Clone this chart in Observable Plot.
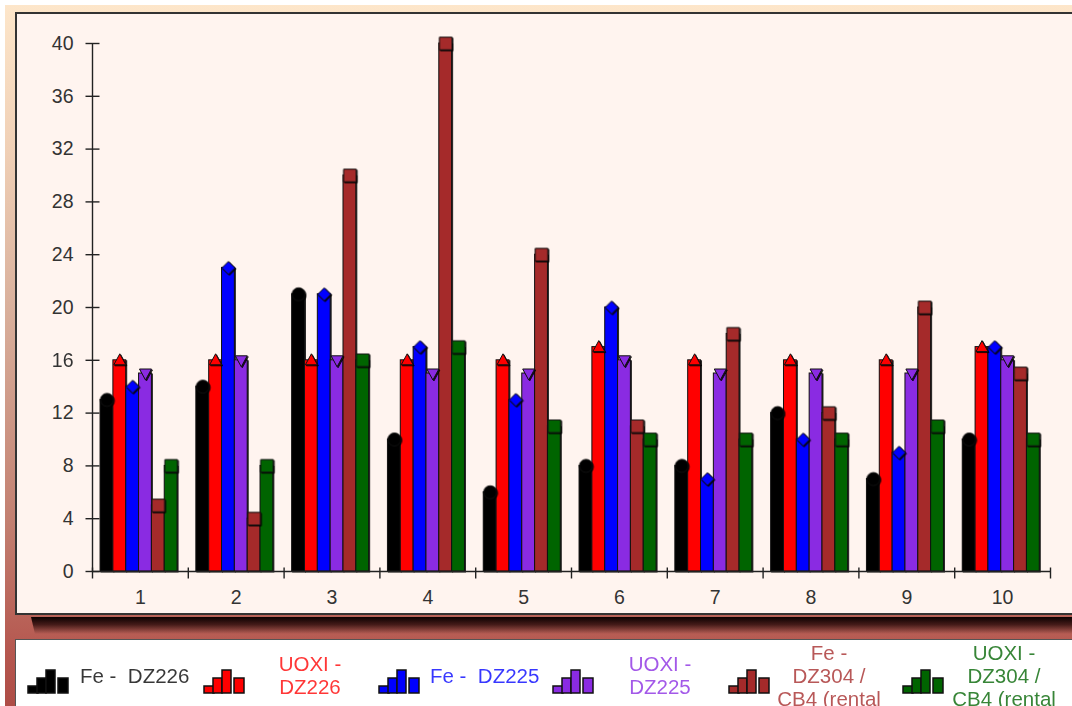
<!DOCTYPE html>
<html><head><meta charset="utf-8">
<script src="https://cdn.jsdelivr.net/npm/d3@7"></script>
<script src="https://cdn.jsdelivr.net/npm/@observablehq/plot@0.6"></script>
<style>
html,body{margin:0;padding:0;width:1072px;height:706px;overflow:hidden;background:#fff;font-family:"Liberation Sans",Arial,sans-serif;}
#frame{position:absolute;left:5px;top:5px;width:1100px;height:720px;background:linear-gradient(to bottom,#fde6ca 0%,#f0d0b6 20%,#d9b09c 42%,#c27f70 72%,#b5574f 90%,#ab4943 100%);}
#panel{position:absolute;left:15px;top:12px;width:1100px;height:599px;border:2px solid #333;background:#fff4ef;}
#shadow{position:absolute;left:31px;top:617px;width:1100px;height:17px;background:linear-gradient(to bottom,rgba(10,0,0,1),rgba(30,4,4,0.75) 45%,rgba(120,40,35,0));clip-path:polygon(0 0,100% 0,100% 100%,4px 100%);}
#legend{position:absolute;left:15px;top:639px;width:1100px;height:100px;border:1px solid #555;background:#fff;}
.li{position:absolute;}
.lt{position:absolute;font-size:20.5px;line-height:23px;text-align:center;white-space:nowrap;opacity:0.78;}
</style></head>
<body>
<div id="frame"></div>
<div id="panel"></div>
<div id="shadow"></div>
<div id="legend"></div>
<script>
const categories = [1, 2, 3, 4, 5, 6, 7, 8, 9, 10];
const seriesNames = ["Fe -  DZ226", "UOXI - DZ226", "Fe -  DZ225", "UOXI - DZ225", "Fe - DZ304 / CB4 (rental", "UOXI - DZ304 / CB4 (rental"];
const seriesColors = ["#000000", "#ff0000", "#0000ff", "#8a2be2", "#a52a2a", "#006400"];
const feDZ226   = [13, 14, 21, 10, 6, 8, 8, 12, 7, 10];
const uoxiDZ226 = [16, 16, 16, 16, 16, 17, 16, 16, 16, 17];
const feDZ225   = [14, 23, 21, 17, 13, 20, 7, 10, 9, 17];
const uoxiDZ225 = [15, 16, 16, 15, 15, 16, 15, 15, 15, 16];
const feDZ304   = [5, 4, 30, 40, 24, 11, 18, 12, 20, 15];
const uoxiDZ304 = [8, 8, 16, 17, 11, 10, 10, 10, 11, 10];
const yTicks = [0, 4, 8, 12, 16, 20, 24, 28, 32, 36, 40];
const legendLines = [["Fe -  DZ226"], ["UOXI -", "DZ226"], ["Fe -  DZ225"], ["UOXI -", "DZ225"], ["Fe -", "DZ304 /", "CB4 (rental"], ["UOXI -", "DZ304 /", "CB4 (rental"]];

const valuesBySeries = [feDZ226, uoxiDZ226, feDZ225, uoxiDZ225, feDZ304, uoxiDZ304];
const rows = [];
seriesNames.forEach((s, si) => categories.forEach((c, ci) => rows.push({cat: c, si, series: s, value: valuesBySeries[si][ci]})));
const boundaries = [0.5, ...categories.map(c => c + 0.5)];

const groupPad = 0.084, barW = 0.134;
const bx1 = d => d.cat - 0.5 + groupPad + d.si * barW;
const bx2 = d => bx1(d) + barW;
const bxm = d => bx1(d) + barW / 2;

const sym = {
  circle: {draw(c){ c.moveTo(6.5,0); c.arc(0,0,6.5,0,2*Math.PI); }},
  up: {draw(c){ c.moveTo(0,-6.5); c.lineTo(6,4.5); c.lineTo(-6,4.5); c.closePath(); }},
  diamond: {draw(c){ c.moveTo(0,-6.5); c.lineTo(6.5,0); c.lineTo(0,6.5); c.lineTo(-6.5,0); c.closePath(); }},
  down: {draw(c){ c.moveTo(0,6.5); c.lineTo(6,-4.5); c.lineTo(-6,-4.5); c.closePath(); }},
  square: {draw(c){ c.rect(-6.3,-6.3,12.6,12.6); }},
  hLine: {draw(c){ c.moveTo(-7,0); c.lineTo(7,0); }},
  vLine: {draw(c){ c.moveTo(0,-4); c.lineTo(0,7); }}
};
const markerSyms = [sym.circle, sym.up, sym.diamond, sym.down, sym.square, sym.square];

const marks = [
  Plot.rectY(rows, {x1: bx1, x2: bx2, y1: 0, y2: "value", fill: "series", stroke: "#111", strokeWidth: 1})
];
seriesNames.forEach((s, si) => {
  marks.push(Plot.dot(rows.filter(d => d.si === si), {x: bxm, y: "value", symbol: markerSyms[si], fill: "series", stroke: "#111", strokeWidth: 1}));
});
marks.push(
  Plot.ruleY([0], {x1: 0.5, x2: 10.5, stroke: "#222", strokeWidth: 1.4}),
  Plot.ruleX([0.5], {y1: 0, y2: 40, stroke: "#222", strokeWidth: 1.4}),
  Plot.dot(yTicks, {x: 0.5, y: d => d, symbol: sym.hLine, fill: "none", stroke: "#222", strokeWidth: 1.4}),
  Plot.dot(boundaries, {x: d => d, y: 0, symbol: sym.vLine, fill: "none", stroke: "#222", strokeWidth: 1.4}),
  Plot.axisY({ticks: yTicks, tickSize: 0, tickPadding: 19, label: null}),
  Plot.axisX({ticks: categories, tickSize: 0, tickPadding: 19, label: null, tickFormat: d => String(d)})
);

const chart = Plot.plot({
  width: 1060, height: 599,
  marginLeft: 75, marginRight: 27, marginTop: 29, marginBottom: 42,
  x: {domain: [0.5, 10.5]},
  y: {domain: [0, 40]},
  color: {domain: seriesNames, range: seriesColors},
  style: {background: "transparent", fontFamily: "'Liberation Sans', Arial, sans-serif", fontSize: "19.5px", color: "#333", overflow: "visible"},
  marks
});
chart.querySelectorAll('g[aria-label="rect"], g[aria-label="dot"]').forEach((g, i) => {
  if (i <= 6) g.style.filter = "drop-shadow(1.5px 1px 0.6px rgba(0,0,0,0.85))";
});
chart.style.position = "absolute";
chart.style.left = "0"; chart.style.top = "0";
document.getElementById("panel").appendChild(chart);

// Legend (HTML)
const legend = document.getElementById("legend");
const iconLefts = [27, 203, 378, 552, 728, 902];
const textPos = [{left: 80, align: "left"}, {center: 310}, {left: 430, align: "left"}, {center: 660}, {center: 829}, {center: 1004}];
seriesNames.forEach((s, si) => {
  const ns = "http://www.w3.org/2000/svg";
  const svg = document.createElementNS(ns, "svg");
  svg.setAttribute("width", 42); svg.setAttribute("height", 25);
  svg.setAttribute("class", "li");
  svg.style.left = (iconLefts[si] - 16) + "px";
  svg.style.top = (669 - 640) + "px";
  [[1, 10, 7], [10, 9, 15], [19, 9, 23], [31, 10, 15]].forEach(([x, w, h]) => {
    const r = document.createElementNS(ns, "rect");
    r.setAttribute("x", x); r.setAttribute("y", 24 - h); r.setAttribute("width", w); r.setAttribute("height", h);
    r.setAttribute("fill", seriesColors[si]); r.setAttribute("stroke", "#111"); r.setAttribute("stroke-width", 1.5);
    svg.appendChild(r);
  });
  legend.appendChild(svg);
  const t = document.createElement("div");
  t.className = "lt";
  t.style.color = seriesColors[si];
  const lines = legendLines[si];
  t.innerHTML = lines.map(l => l.replace(/ /g, "&nbsp;")).join("<br>");
  const h = lines.length * 23;
  t.style.top = (675 - 640 - h / 2) + "px";
  const tp = textPos[si];
  if (tp.align === "left") { t.style.left = (tp.left - 16) + "px"; t.style.textAlign = "left"; }
  else { t.style.left = (tp.center - 16 - 100) + "px"; t.style.width = "200px"; }
  legend.appendChild(t);
});
</script>
</body></html>
